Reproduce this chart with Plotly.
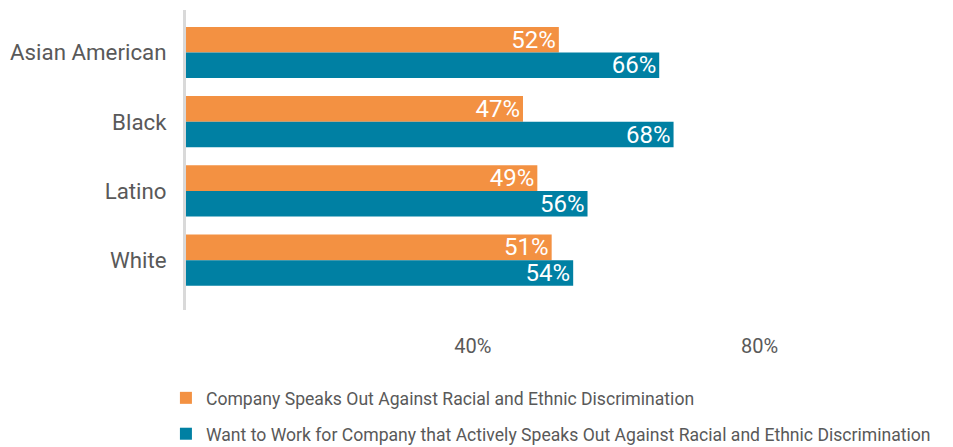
import plotly.graph_objects as go

categories = ["Asian American", "Black", "Latino", "White"]
speaks_out = [52, 47, 49, 51]
want_to_work = [66, 68, 56, 54]
series_names = [
    "Company Speaks Out Against Racial and Ethnic Discrimination",
    "Want to Work for Company that Actively Speaks Out Against Racial and Ethnic Discrimination",
]
tick_values = [40, 80]
tick_labels = ["40%", "80%"]

FONT = "Roboto, sans-serif"
ORANGE = "#F39142"
TEAL = "#0080A3"

fig = go.Figure()
for name, vals, color, grp in [
    (series_names[0], speaks_out, ORANGE, "a"),
    (series_names[1], want_to_work, TEAL, "b"),
]:
    fig.add_trace(go.Bar(
        y=categories, x=vals, name=name, orientation="h",
        marker=dict(color=color, line=dict(width=0)),
        text=[f"{v}%" for v in vals], textposition="inside",
        insidetextanchor="end", textangle=0,
        textfont=dict(color="white", size=24, family=FONT),
        legendgroup=grp, hoverinfo="skip", cliponaxis=False,
    ))

# page body has an 8px default margin, so the figure is sized to fit the window
fig.update_layout(
    width=945, height=439,
    margin=dict(l=178, r=49.5, t=2, b=137, autoexpand=False),
    barmode="group", bargap=0.26, bargroupgap=0.0,
    plot_bgcolor="white", paper_bgcolor="white",
    font=dict(family=FONT, color="#595959"),
    showlegend=True,
    legend=dict(
        x=-0.028, y=-0.233, xanchor="left", yanchor="top",
        orientation="v", traceorder="grouped", tracegroupgap=10,
        font=dict(size=17.6, color="#595959", family=FONT),
        itemwidth=30,
    ),
    uniformtext=dict(mode="show", minsize=24),
)
fig.update_xaxes(
    range=[0, 100], tickvals=tick_values, ticktext=tick_labels,
    showgrid=False, zeroline=False, showline=False, automargin=False,
    tickfont=dict(size=20, color="#595959", family=FONT),
    ticks="", ticklabelstandoff=22,
)
fig.update_yaxes(
    range=[3.72, -0.614], showgrid=False, zeroline=False, automargin=False,
    showline=True, linecolor="#D9D9D9", linewidth=3,
    tickfont=dict(size=22.3, color="#595959", family=FONT),
    ticks="", ticklabelstandoff=12,
)

fig.write_html("out.html")
